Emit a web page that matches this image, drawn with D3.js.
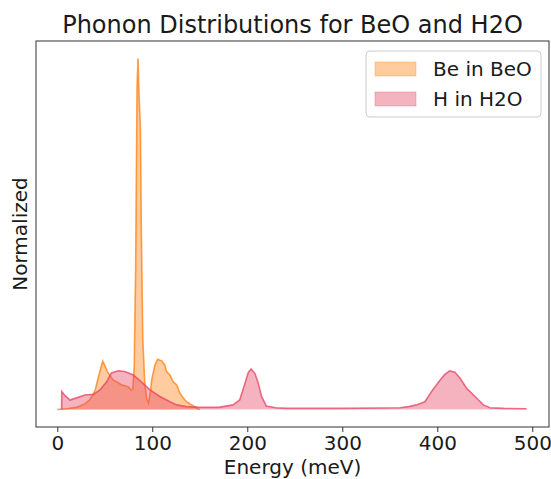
<!DOCTYPE html>
<html><head><meta charset="utf-8">
<script src="https://cdn.jsdelivr.net/npm/d3@7"></script>
<style>
html,body{margin:0;padding:0;background:#fff;}
text{font-family:"DejaVu Sans",sans-serif;fill:#1a1a1a;}
</style></head>
<body><svg id="c" width="551" height="479"></svg>
<script>
// Energy (meV) and normalized intensity
const beEnergy = [0, 10, 20, 24, 30, 34, 37, 40, 44, 47.8, 50, 53.5, 58.7, 63, 67.8, 72, 74.5, 78, 79.5, 81, 82.5, 84, 85, 86, 87.5, 88.5, 90, 92, 94, 96, 98, 99.4, 102.8, 105.7, 108, 110, 111.6, 113, 115, 118.6, 122, 125.7, 129, 132, 136, 140, 143, 146, 148.4, 150];
const beValue  = [0, 0.002, 0.006, 0.01, 0.018, 0.027, 0.04, 0.056, 0.1, 0.138, 0.125, 0.104, 0.084, 0.078, 0.07, 0.067, 0.065, 0.055, 0.06, 0.12, 0.4, 0.92, 1.0, 0.9, 0.8, 0.5, 0.2, 0.08, 0.03, 0.018, 0.05, 0.084, 0.127, 0.143, 0.14, 0.139, 0.132, 0.128, 0.108, 0.098, 0.079, 0.07, 0.047, 0.035, 0.022, 0.015, 0.011, 0.005, 0.001, 0];
const hEnergy  = [4.6, 4.7, 8, 13.4, 20.4, 29, 38, 45, 52, 57, 64, 71, 80, 87, 97.6, 108, 118.6, 125.7, 136, 150, 170, 185, 192, 197.6, 201, 204, 208, 211.6, 215, 220, 230, 241.5, 300, 340, 360.7, 370, 378, 387, 394, 403, 408, 413, 418.6, 424, 431, 439.7, 448.5, 455.5, 470, 494];
const hValue   = [0, 0.051, 0.04, 0.027, 0.033, 0.041, 0.043, 0.056, 0.079, 0.104, 0.11, 0.108, 0.098, 0.082, 0.056, 0.037, 0.022, 0.013, 0.008, 0.006, 0.006, 0.013, 0.027, 0.075, 0.105, 0.115, 0.103, 0.075, 0.037, 0.01, 0.005, 0.003, 0.003, 0.004, 0.005, 0.008, 0.013, 0.022, 0.051, 0.084, 0.1, 0.11, 0.106, 0.089, 0.06, 0.037, 0.013, 0.005, 0.003, 0.002];
const xTicks = [0, 100, 200, 300, 400, 500];
const seriesNames = ["Be in BeO", "H in H2O"];
const seriesColors = ["#ff7f0e", "#e64161"];

const svg = d3.select("#c");
const L = 36, R = 549, T = 41, B = 427;
const x = d3.scaleLinear().domain([-22.4, 517.6]).range([L, R]);
const y = d3.scaleLinear().domain([-0.05, 1.05]).range([B, T]);

const series = [
  {name: seriesNames[0], color: seriesColors[0], pts: beEnergy.map((e,i)=>[e, beValue[i]])},
  {name: seriesNames[1], color: seriesColors[1], pts: hEnergy.map((e,i)=>[e, hValue[i]])}
];
const area = d3.area().x(d=>x(d[0])).y0(y(0)).y1(d=>y(d[1]));
const line = d3.line().x(d=>x(d[0])).y(d=>y(d[1]));
series.forEach(s=>{
  svg.append("path").attr("d", area(s.pts)).attr("fill", s.color).attr("fill-opacity", 0.4);
  svg.append("path").attr("d", line(s.pts)).attr("fill","none").attr("stroke", s.color).attr("stroke-opacity",0.75).attr("stroke-width",1.6);
});

// frame
svg.append("rect").attr("x",L).attr("y",T).attr("width",R-L).attr("height",B-T).attr("fill","none").attr("stroke","#333").attr("stroke-width",1);

const xa = svg.append("g").attr("transform",`translate(0,${B})`).call(d3.axisBottom(x).tickValues(xTicks).tickSize(5).tickPadding(4).tickFormat(d3.format("d")));
xa.select(".domain").remove();
xa.selectAll("line").attr("stroke","#333");
xa.selectAll("text").attr("font-size",20).attr("font-family","DejaVu Sans").attr("fill","#1a1a1a");

svg.append("text").attr("x",(L+R)/2).attr("y",474).attr("text-anchor","middle").attr("font-size",20).text("Energy (meV)");
svg.append("text").attr("transform",`translate(27,${(T+B)/2}) rotate(-90)`).attr("text-anchor","middle").attr("font-size",20).text("Normalized");
svg.append("text").attr("x",(L+R)/2).attr("y",33).attr("text-anchor","middle").attr("font-size",24).text("Phonon Distributions for BeO and H2O");

// legend
const lg = svg.append("g");
lg.append("rect").attr("x",366).attr("y",51).attr("width",175).attr("height",66).attr("rx",4).attr("fill","#fff").attr("fill-opacity",0.8).attr("stroke","#ccc");
series.forEach((s,i)=>{
  const yy = 62 + i*30;
  lg.append("rect").attr("x",375).attr("y",yy).attr("width",41).attr("height",14).attr("fill",s.color).attr("fill-opacity",0.4).attr("stroke",s.color).attr("stroke-opacity",0.3);
  lg.append("text").attr("x",433).attr("y",yy+14).attr("font-size",20).text(s.name);
});
</script></body></html>
